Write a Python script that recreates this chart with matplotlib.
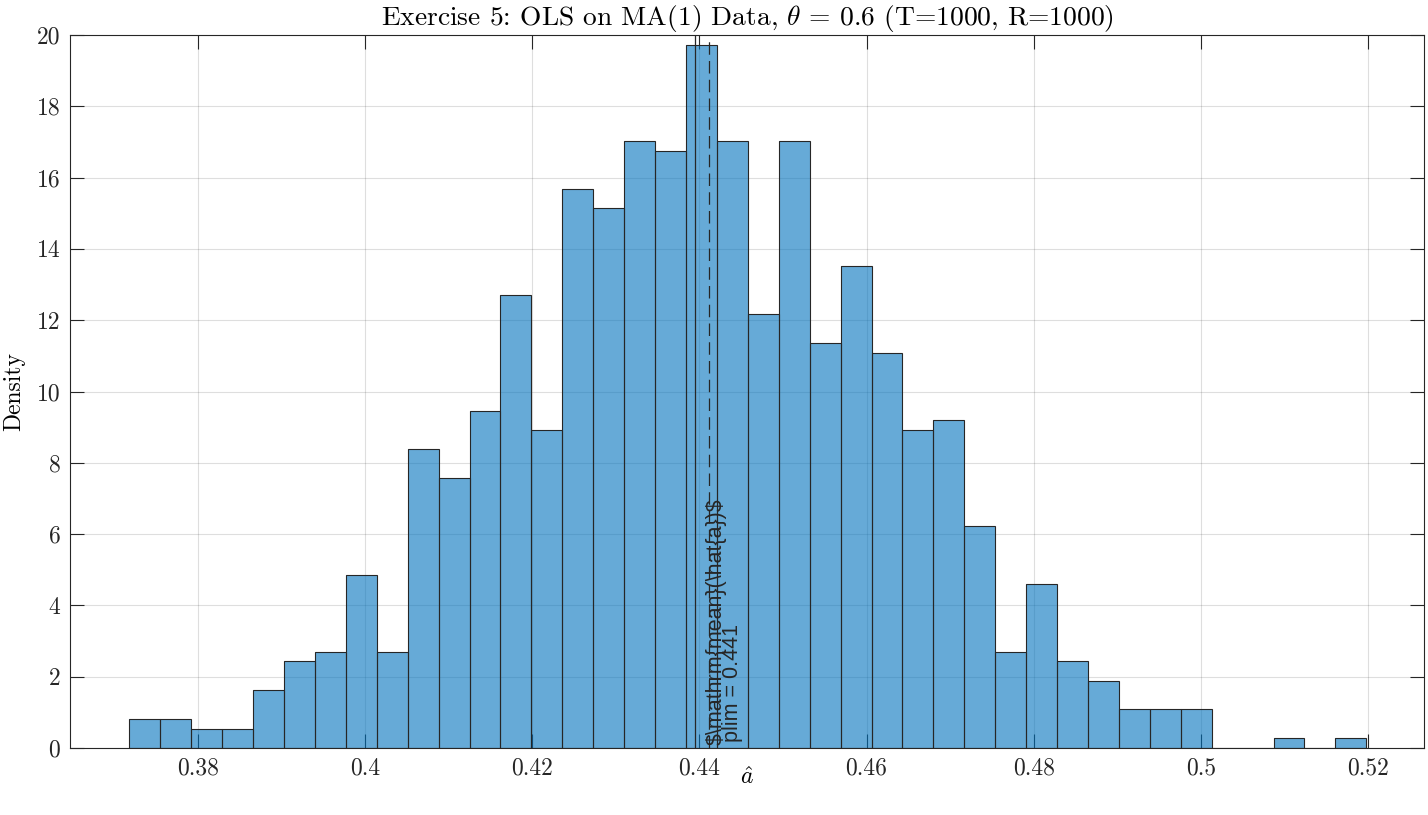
"""Histogram of OLS estimates on MA(1) data (MATLAB-style look)."""

import matplotlib

matplotlib.use("Agg")

import matplotlib.pyplot as plt
import numpy as np
from matplotlib.ticker import FuncFormatter, MultipleLocator

plt.rcParams["font.family"] = "cmr10"
plt.rcParams["mathtext.fontset"] = "cm"
plt.rcParams["axes.formatter.use_mathtext"] = True

# 40 bins, counts out of R = 1000 replications
R = 1000
bin_start = 0.3718
bin_width = 0.0037
counts = [3, 3, 2, 2, 6, 9, 10, 18, 10, 31,
          28, 35, 47, 33, 58, 56, 63, 62, 73, 63,
          45, 63, 42, 50, 41, 33, 34, 23, 10, 17,
          9, 7, 4, 4, 4, 0, 0, 1, 0, 1]
mean_a = 0.4395
plim_a = 0.4412

edges = bin_start + bin_width * np.arange(len(counts) + 1)
centers = 0.5 * (edges[:-1] + edges[1:])

fig = plt.figure(figsize=(14.28, 8.15), dpi=100)
ax = fig.add_axes([70 / 1428, 1 - 748 / 815, 1354 / 1428, 713 / 815])

ax.hist(centers, bins=edges, weights=counts, density=True,
        color=(0.0, 0.447, 0.741), alpha=0.6, edgecolor="none")
ax.hist(centers, bins=edges, weights=counts, density=True,
        histtype="bar", facecolor="none", edgecolor="#262626", linewidth=0.8)

dark = "#262626"
ax.axvline(mean_a, color=dark, linewidth=0.9)
ax.axvline(plim_a, color=dark, linewidth=0.9, linestyle=(0, (10, 5)))

label_font = dict(family="Liberation Sans", size=15.5, color=dark)
ax.annotate(r"$\mathrm{mean}(\hat{a})$", xy=(mean_a, 0),
            xycoords=("data", "axes fraction"), xytext=(8, 2),
            textcoords="offset points", rotation=90, ha="left", va="bottom",
            parse_math=False, **label_font)
ax.annotate(f"plim = {plim_a:.3f}", xy=(plim_a, 0),
            xycoords=("data", "axes fraction"), xytext=(9, 4),
            textcoords="offset points", rotation=90, ha="left", va="bottom",
            parse_math=False, **label_font)

ax.set_xlim(0.3647, 0.5267)
ax.set_ylim(0, 20)
ax.xaxis.set_major_locator(MultipleLocator(0.02))
ax.yaxis.set_major_locator(MultipleLocator(2))
ax.xaxis.set_major_formatter(FuncFormatter(lambda v, _: f"{v:g}"))
ax.yaxis.set_major_formatter(FuncFormatter(lambda v, _: f"{v:g}"))

ax.set_axisbelow(True)
ax.grid(True, color="#262626", alpha=0.15, linewidth=0.8)
ax.tick_params(direction="in", length=10, width=0.8, top=True, right=True,
               labelsize=17, colors=dark, pad=7)
for spine in ax.spines.values():
    spine.set_linewidth(0.8)
    spine.set_color(dark)

ax.set_title(r"Exercise 5: OLS on MA(1) Data, $\theta$ = 0.6 (T=1000, R=1000)",
             fontsize=19.8, pad=7)
ax.set_xlabel(r"$\hat{a}$", fontsize=17, labelpad=-9)
ax.set_ylabel("Density", fontsize=17, labelpad=8)

fig.savefig("out.png", dpi=100)
